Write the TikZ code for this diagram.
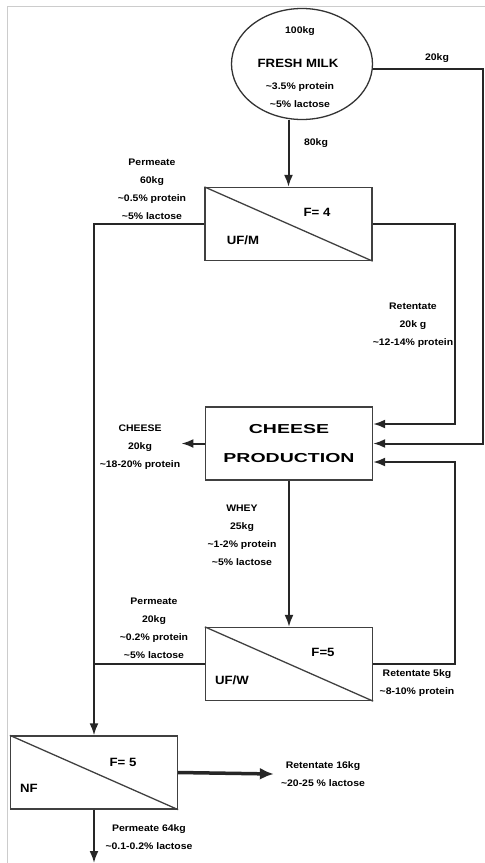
\documentclass[tikz,border=0pt]{standalone}
\usepackage{fontspec}
\setmainfont{Liberation Sans}[FakeStretch=1.1]
\newfontfamily\widefont{Liberation Sans}[FakeStretch=1.5]
\usetikzlibrary{positioning,shapes.geometric,arrows.meta}
\newcommand{\apx}{\textasciitilde}

\begin{document}
\begin{tikzpicture}[x=1pt, y=-1pt, font=\bfseries\fontsize{9.5}{18}\selectfont]
	% Define styles for boxes
	\tikzset{
		box/.style={
			rectangle,
			draw=black!75,
			line width=1.3pt,
			minimum width=167pt,
			minimum height=73pt,
			inner sep=0pt
		},
		feed/.style={
			ellipse,
			draw=black!80,
			line width=1.3pt,
			minimum width=141pt,
			minimum height=111pt,
			inner sep=0pt
		},
		lbl/.style={align=center, inner sep=1pt},
		unit/.style={font=\bfseries\fontsize{12}{14}\selectfont},
		flow/.style={draw=black!85, line width=2pt, -{Latex[length=12pt,width=9pt]}},
		pipe/.style={draw=black!85, line width=2pt},
		frame/.style={draw=black!20, line width=1pt}
	}
	\useasboundingbox (0,0) rectangle (485,863);
	\draw[frame] (7,863) -- (7,6) -- (485,6);
	
	% Feed
	\node[feed] (freshMilk) at (302,64) {};
	\node (milkKg) at (300,31) {100kg};
	\node[font=\bfseries\fontsize{12}{14}\selectfont] (milkName) at (298,63) {FRESH MILK};
	\node[lbl] (milkComp) at (300,95) {\apx3.5\% protein\\\apx5\% lactose};
	
	% Nodes for the units
	\node[box] (ufM) at (288.5,224) {};
	\node[box, align=center, font=\widefont\bfseries\fontsize{13}{29}\selectfont] (cheeseProd) at (289,443.5) {CHEESE\\PRODUCTION};
	\node[box] (ufW) at (289,664) {};
	\node[box] (nfUnit) at (94,772.5) {};
	
	% diagonals of the membranes
	\draw[line width=1.3pt, black!75] (ufM.north west) -- (ufM.south east);
	\draw[line width=1.3pt, black!75] (ufW.north west) -- (ufW.south east);
	\draw[line width=1.3pt, black!75] (nfUnit.north west) -- (nfUnit.south east);
	
	\node[unit] (ufMF) at (317,212) {F= 4};
	\node[unit] (ufMName) at (243,240) {UF/M};
	\node[unit] (ufWF) at (323,652) {F=5};
	\node[unit] (ufWName) at (232,680) {UF/W};
	\node[unit] (nfF) at (123,762) {F= 5};
	\node[unit] (nfName) at (29,788) {NF};
	
	% Labels of the streams
	\node (feedLbl) at (316,143) {80kg};
	\node (bypassLbl) at (437,58) {20kg};
	\node[lbl] (ufMPerm) at (152,189) {Permeate\\60kg\\\apx0.5\% protein\\\apx5\% lactose};
	\node[lbl] (ufMRet) at (413,325) {Retentate\\20k g\\\apx12-14\% protein};
	\node[lbl] (cheeseOut) at (140,447) {CHEESE\\20kg\\\apx18-20\% protein};
	\node[lbl] (wheyLbl) at (242,535) {WHEY\\25kg\\\apx1-2\% protein\\\apx5\% lactose};
	\node[lbl] (ufWPerm) at (154,628) {Permeate\\20kg\\\apx0.2\% protein\\\apx5\% lactose};
	\node[lbl] (ufWRet) at (417,683) {Retentate 5kg\\\apx8-10\% protein};
	\node[lbl] (nfRet) at (323,774) {Retentate 16kg\\\apx20-25 \% lactose};
	\node[lbl] (nfPerm) at (149,837) {Permeate 64kg\\\apx0.1-0.2\% lactose};
	
	% Arrows for the streams
	\coordinate (bypassTop) at (483,69);
	\coordinate (nfOut) at (94,863);
	\draw[flow] (freshMilk.south -| ufM.north) -- (ufM.north);
	\draw[flow] ([yshift=-5pt]freshMilk.east) -- (bypassTop) |- (cheeseProd.east);
	\draw[flow] (ufM.east) -- ++(82,0) |- ([yshift=19.5pt]cheeseProd.east);
	\draw[flow] (ufM.west) -| (nfUnit.north);
	\draw[flow] (cheeseProd.west) -- (cheeseProd.west -| cheeseOut.east);
	\draw[flow] (cheeseProd.south) -- (ufW.north);
	\draw[flow] (ufW.east) -- ++(82,0) |- ([yshift=-18.5pt]cheeseProd.east);
	\draw[pipe] (ufW.west) -- (ufW.west -| nfUnit.north);
	\draw[flow, line width=3.5pt, -{Latex[length=14pt,width=12pt]}] (nfUnit.east) -- ([xshift=-6pt]nfRet.west);
	\draw[flow] (nfUnit.south) -- (nfOut);
\end{tikzpicture}
\end{document}
